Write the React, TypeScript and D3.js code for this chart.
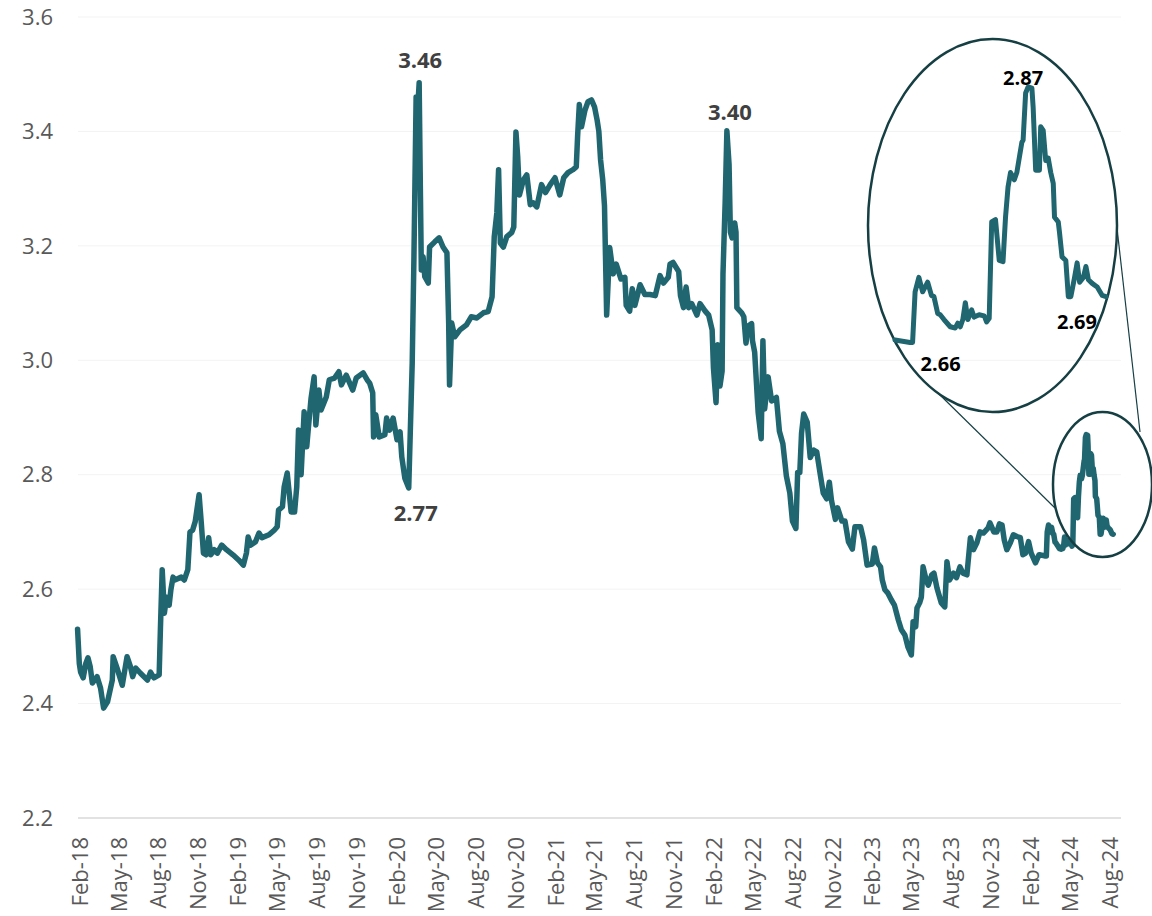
import React from "react";
import * as d3 from "d3";

type Pt = [string, number];

const series2018: Pt[] = [["2018-01-26",2.530],["2018-01-30",2.470],["2018-02-02",2.455],["2018-02-08",2.445],["2018-02-14",2.470],["2018-02-19",2.480],["2018-02-24",2.465],["2018-03-01",2.436],["2018-03-12",2.447],["2018-03-20",2.427],["2018-03-27",2.392],["2018-04-05",2.403],["2018-04-16",2.441],["2018-04-18",2.482],["2018-04-27",2.462],["2018-05-09",2.432],["2018-05-20",2.482],["2018-05-28",2.464],["2018-06-02",2.447],["2018-06-09",2.462],["2018-06-20",2.453],["2018-07-06",2.441],["2018-07-13",2.455],["2018-07-21",2.445],["2018-08-02",2.450],["2018-08-05",2.534],["2018-08-09",2.634],["2018-08-14",2.558],["2018-08-19",2.586],["2018-08-25",2.572],["2018-08-29",2.599],["2018-09-03",2.621],["2018-09-07",2.616],["2018-09-22",2.621],["2018-09-29",2.616],["2018-10-07",2.634],["2018-10-12",2.700],["2018-10-18",2.703],["2018-10-24",2.718],["2018-11-02",2.765],["2018-11-07",2.716],["2018-11-12",2.663],["2018-11-18",2.660],["2018-11-24",2.690],["2018-11-29",2.660],["2018-12-07",2.669],["2018-12-14",2.663],["2018-12-24",2.677]];

const series2019: Pt[] = [["2019-01-04",2.669],["2019-01-19",2.660],["2019-02-01",2.651],["2019-02-12",2.642],["2019-02-19",2.663],["2019-02-23",2.691],["2019-03-01",2.677],["2019-03-12",2.683],["2019-03-20",2.698],["2019-03-27",2.690],["2019-04-12",2.695],["2019-04-24",2.703],["2019-05-01",2.709],["2019-05-04",2.738],["2019-05-13",2.744],["2019-05-17",2.779],["2019-05-24",2.803],["2019-06-02",2.735],["2019-06-10",2.735],["2019-06-15",2.779],["2019-06-19",2.878],["2019-06-25",2.800],["2019-07-02",2.910],["2019-07-08",2.849],["2019-07-12",2.884],["2019-07-18",2.934],["2019-07-25",2.971],["2019-07-29",2.887],["2019-08-05",2.948],["2019-08-10",2.913],["2019-08-22",2.936],["2019-08-29",2.966],["2019-09-10",2.969],["2019-09-20",2.980],["2019-09-26",2.957],["2019-10-07",2.974],["2019-10-22",2.948],["2019-10-30",2.969],["2019-11-15",2.978],["2019-11-25",2.965],["2019-11-30",2.960],["2019-12-07",2.943],["2019-12-09",2.866],["2019-12-14",2.905],["2019-12-22",2.866]];

const series2020: Pt[] = [["2020-01-04",2.870],["2020-01-08",2.899],["2020-01-15",2.878],["2020-01-23",2.899],["2020-02-01",2.861],["2020-02-08",2.875],["2020-02-12",2.831],["2020-02-19",2.794],["2020-02-28",2.777],["2020-03-07",2.995],["2020-03-11",3.181],["2020-03-16",3.460],["2020-03-19",3.430],["2020-03-23",3.485],["2020-03-26",3.286],["2020-03-28",3.158],["2020-04-01",3.181],["2020-04-05",3.146],["2020-04-13",3.135],["2020-04-16",3.198],["2020-04-28",3.207],["2020-05-08",3.214],["2020-05-17",3.198],["2020-05-26",3.188],["2020-05-30",3.065],["2020-06-01",2.957],["2020-06-06",3.065],["2020-06-13",3.041],["2020-06-25",3.053],["2020-07-10",3.062],["2020-07-21",3.076],["2020-08-03",3.074],["2020-08-18",3.083],["2020-08-29",3.085],["2020-09-07",3.111],["2020-09-12",3.216],["2020-09-18",3.258],["2020-09-22",3.333],["2020-09-26",3.205],["2020-10-03",3.198],["2020-10-11",3.216],["2020-10-22",3.223],["2020-10-27",3.233],["2020-11-01",3.399],["2020-11-05",3.356],["2020-11-09",3.289],["2020-11-18",3.315],["2020-11-26",3.324],["2020-12-04",3.272],["2020-12-11",3.275],["2020-12-19",3.268],["2020-12-30",3.307]];

const series2021: Pt[] = [["2021-01-08",3.293],["2021-01-19",3.307],["2021-01-30",3.319],["2021-02-10",3.289],["2021-02-19",3.319],["2021-03-01",3.328],["2021-03-12",3.333],["2021-03-20",3.338],["2021-03-23",3.391],["2021-03-27",3.447],["2021-04-01",3.408],["2021-04-09",3.437],["2021-04-16",3.452],["2021-04-24",3.455],["2021-05-01",3.443],["2021-05-07",3.420],["2021-05-11",3.400],["2021-05-15",3.350],["2021-05-20",3.315],["2021-05-24",3.270],["2021-05-29",3.079],["2021-06-05",3.197],["2021-06-13",3.151],["2021-06-20",3.168],["2021-07-01",3.142],["2021-07-10",3.145],["2021-07-13",3.096],["2021-07-21",3.086],["2021-07-27",3.125],["2021-08-02",3.096],["2021-08-14",3.132],["2021-08-25",3.115],["2021-09-06",3.115],["2021-09-18",3.113],["2021-09-29",3.148],["2021-10-07",3.135],["2021-10-18",3.145],["2021-10-22",3.168],["2021-10-29",3.171],["2021-11-11",3.155],["2021-11-15",3.113],["2021-11-22",3.092],["2021-11-28",3.128],["2021-12-04",3.092],["2021-12-11",3.099],["2021-12-23",3.079],["2021-12-30",3.099]];

const series2022: Pt[] = [["2022-01-11",3.086],["2022-01-19",3.079],["2022-01-27",3.053],["2022-01-30",2.987],["2022-02-05",2.926],["2022-02-09",3.027],["2022-02-14",2.955],["2022-02-19",2.981],["2022-02-21",3.151],["2022-02-26",3.276],["2022-03-02",3.401],["2022-03-07",3.342],["2022-03-10",3.224],["2022-03-14",3.214],["2022-03-20",3.240],["2022-03-23",3.224],["2022-03-25",3.092],["2022-04-05",3.083],["2022-04-10",3.076],["2022-04-15",3.030],["2022-04-20",3.060],["2022-04-28",3.064],["2022-04-30",3.034],["2022-05-05",3.014],["2022-05-13",2.909],["2022-05-20",2.863],["2022-05-24",3.034],["2022-05-28",2.915],["2022-06-05",2.971],["2022-06-13",2.929],["2022-06-24",2.935],["2022-07-01",2.876],["2022-07-09",2.854],["2022-07-17",2.798],["2022-07-25",2.768],["2022-07-31",2.719],["2022-08-08",2.706],["2022-08-12",2.804],["2022-08-17",2.804],["2022-08-21",2.873],["2022-08-26",2.906],["2022-09-03",2.892],["2022-09-10",2.830],["2022-09-18",2.843],["2022-09-25",2.840],["2022-10-03",2.801],["2022-10-10",2.768],["2022-10-18",2.758],["2022-10-24",2.787],["2022-10-29",2.755],["2022-11-07",2.722],["2022-11-12",2.742],["2022-11-22",2.719],["2022-11-29",2.719],["2022-12-07",2.683],["2022-12-16",2.670],["2022-12-22",2.709]];

const series2023: Pt[] = [["2023-01-04",2.709],["2023-01-11",2.686],["2023-01-19",2.642],["2023-01-31",2.644],["2023-02-05",2.672],["2023-02-12",2.646],["2023-02-19",2.639],["2023-02-23",2.616],["2023-03-01",2.599],["2023-03-08",2.593],["2023-03-16",2.581],["2023-03-23",2.572],["2023-04-01",2.546],["2023-04-08",2.529],["2023-04-16",2.520],["2023-04-23",2.499],["2023-05-01",2.485],["2023-05-05",2.543],["2023-05-11",2.534],["2023-05-14",2.567],["2023-05-20",2.576],["2023-05-24",2.586],["2023-05-28",2.639],["2023-06-04",2.616],["2023-06-09",2.607],["2023-06-17",2.625],["2023-06-22",2.628],["2023-06-29",2.602],["2023-07-09",2.576],["2023-07-17",2.569],["2023-07-22",2.648],["2023-07-28",2.616],["2023-08-06",2.628],["2023-08-13",2.620],["2023-08-21",2.639],["2023-08-28",2.628],["2023-09-06",2.625],["2023-09-14",2.690],["2023-09-21",2.669],["2023-09-29",2.681],["2023-10-06",2.700],["2023-10-14",2.698],["2023-10-25",2.707],["2023-10-29",2.716],["2023-11-07",2.700],["2023-11-14",2.700],["2023-11-20",2.714],["2023-11-26",2.712],["2023-12-01",2.686],["2023-12-07",2.669],["2023-12-15",2.681],["2023-12-22",2.695],["2023-12-30",2.692]];

const series2024: Pt[] = [["2024-01-07",2.690],["2024-01-13",2.660],["2024-01-19",2.663],["2024-01-26",2.683],["2024-02-01",2.663],["2024-02-11",2.646],["2024-02-19",2.660],["2024-02-22",2.660],["2024-03-05",2.658],["2024-03-07",2.658],["2024-03-09",2.700],["2024-03-12",2.712],["2024-03-15",2.700],["2024-03-19",2.708],["2024-03-22",2.697],["2024-03-24",2.696],["2024-03-27",2.682],["2024-03-29",2.681],["2024-04-01",2.677],["2024-04-06",2.671],["2024-04-10",2.670],["2024-04-12",2.674],["2024-04-14",2.671],["2024-04-16",2.677],["2024-04-18",2.691],["2024-04-20",2.677],["2024-04-23",2.685],["2024-04-25",2.679],["2024-04-29",2.681],["2024-05-03",2.680],["2024-05-05",2.675],["2024-05-07",2.678],["2024-05-09",2.758],["2024-05-12",2.760],["2024-05-15",2.726],["2024-05-18",2.725],["2024-05-20",2.762],["2024-05-22",2.787],["2024-05-24",2.799],["2024-05-27",2.793],["2024-05-29",2.799],["2024-06-02",2.824],["2024-06-03",2.826],["2024-06-05",2.865],["2024-06-07",2.870],["2024-06-10",2.869],["2024-06-11",2.853],["2024-06-13",2.801],["2024-06-16",2.801],["2024-06-17",2.837],["2024-06-19",2.834],["2024-06-21",2.809],["2024-06-23",2.811],["2024-06-25",2.799],["2024-06-27",2.790],["2024-06-28",2.762],["2024-07-01",2.758],["2024-07-02",2.749],["2024-07-04",2.729],["2024-07-07",2.726],["2024-07-09",2.696],["2024-07-11",2.696],["2024-07-14",2.712],["2024-07-16",2.724],["2024-07-18",2.708],["2024-07-21",2.712],["2024-07-23",2.721],["2024-07-25",2.710],["2024-07-28",2.707],["2024-08-01",2.704],["2024-08-05",2.697],["2024-08-08",2.696]];

const yTicks = [2.2, 2.4, 2.6, 2.8, 3.0, 3.2, 3.4, 3.6];
const xTickDates = ["2018-02-01","2018-05-01","2018-08-01","2018-11-01","2019-02-01","2019-05-01","2019-08-01","2019-11-01","2020-02-01","2020-05-01","2020-08-01","2020-11-01","2021-02-01","2021-05-01","2021-08-01","2021-11-01","2022-02-01","2022-05-01","2022-08-01","2022-11-01","2023-02-01","2023-05-01","2023-08-01","2023-11-01","2024-02-01","2024-05-01","2024-08-01"];
const xDomain = ["2018-01-27", "2024-08-26"];

const mainLabelDates = ["2020-03-23", "2020-02-28", "2022-03-02"];
const mainLabelTexts = ["3.46", "2.77", "3.40"];
const insetDomain = ["2024-02-22", "2024-08-08"];
const insetYDomain = [2.66, 2.87];
const insetLabelDates = ["2024-03-07", "2024-06-07", "2024-08-08"];
const insetLabelTexts = ["2.66", "2.87", "2.69"];

const parse = d3.timeParse("%Y-%m-%d");
const fmt = d3.timeFormat("%b-%y");

const LINE = "#1F6670";
const RING = "#163F44";
const FONT = "'Open Sans', 'Noto Sans', sans-serif";

export default function App() {
  const data = [...series2018, ...series2019, ...series2020, ...series2021, ...series2022, ...series2023, ...series2024]
    .map(([d, v]) => ({ date: parse(d) as Date, value: v }));

  const left = 78, right = 1121, top = 17, bottom = 818;
  const x = d3.scaleTime().domain(xDomain.map((d) => parse(d) as Date)).range([left, right]);
  const y = d3.scaleLinear().domain([2.2, 3.6]).range([bottom, top]);
  const line = d3.line<{ date: Date; value: number }>().x((d) => x(d.date)).y((d) => y(d.value));

  const i0 = parse(insetDomain[0]) as Date;
  const i1 = parse(insetDomain[1]) as Date;
  const ix = d3.scaleTime().domain([i0, i1]).range([895, 1106]);
  const iy = d3.scaleLinear().domain(insetYDomain).range([340, 87]);
  const insetData = data.filter((d) => d.date >= i0 && d.date <= i1);
  const iline = d3.line<{ date: Date; value: number }>().x((d) => ix(d.date)).y((d) => iy(d.value));

  const find = (s: string) => data.find((d) => +d.date === +(parse(s) as Date))!;
  const mainOffsets = [[1, -15], [7, 33], [3, -11]];
  const insetOffsets = [[28, 29], [-5, -2], [-29, 32]];

  return (
    <svg width={1152} height={916} style={{ position: "absolute", left: 0, top: 0, background: "#fff" }} fontFamily={FONT}>
      {yTicks.map((t) => (
        <g key={t}>
          <line x1={left} x2={right} y1={y(t)} y2={y(t)} stroke={t === 2.2 ? "#d9d9d9" : "#f3f3f3"} strokeWidth={t === 2.2 ? 1.5 : 1} />
          <text x={53} y={y(t)} dy="0.35em" textAnchor="end" fontSize={22} fill="#595959">{t.toFixed(1)}</text>
        </g>
      ))}
      {xTickDates.map((s) => {
        const d = parse(s) as Date;
        return (
          <text key={s} transform={`translate(${x(d)},837) rotate(-90)`} dy="0.35em" textAnchor="end" fontSize={22} fill="#595959">{fmt(d)}</text>
        );
      })}
      <path d={line(data) || ""} fill="none" stroke={LINE} strokeWidth={5.5} strokeLinejoin="round" strokeLinecap="round" />
      {mainLabelDates.map((s, i) => {
        const p = find(s);
        return (
          <text key={s} x={x(p.date) + mainOffsets[i][0]} y={y(p.value) + mainOffsets[i][1]} textAnchor="middle" fontSize={22} fontWeight={700} fill="#404040">{mainLabelTexts[i]}</text>
        );
      })}
      <line x1={938} y1={393} x2={1055} y2={508} stroke={RING} strokeWidth={1.2} />
      <line x1={1117} y1={228} x2={1140} y2={432} stroke={RING} strokeWidth={1.2} />
      <ellipse cx={1102.5} cy={484.5} rx={49.5} ry={72.5} fill="none" stroke={RING} strokeWidth={2.5} />
      <ellipse cx={992.5} cy={225.5} rx={124.5} ry={186.5} fill="none" stroke={RING} strokeWidth={2.5} />
      <path d={iline(insetData) || ""} fill="none" stroke={LINE} strokeWidth={5} strokeLinejoin="round" strokeLinecap="round" />
      {insetLabelDates.map((s, i) => {
        const p = find(s);
        return (
          <text key={s} x={ix(p.date) + insetOffsets[i][0]} y={iy(p.value) + insetOffsets[i][1]} textAnchor="middle" fontSize={20} fontWeight={700} fill="#000">{insetLabelTexts[i]}</text>
        );
      })}
    </svg>
  );
}
